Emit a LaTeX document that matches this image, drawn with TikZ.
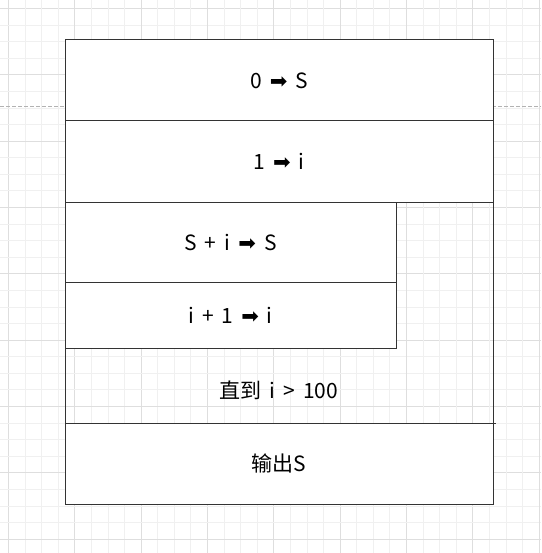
\documentclass[tikz,border=0pt]{standalone}
\usepackage{fontspec}
\setmainfont[WordSpace=1.7]{Noto Sans CJK SC}
\newfontfamily\symfont{DejaVu Sans}
\usetikzlibrary{positioning}
\newcommand{\ra}{{\symfont ➡}}

\begin{document}
\begin{tikzpicture}
[x=1pt,y=-1pt,
  lineDecorate/.style={draw=black!80,line width=1pt},
  boxDecorate/.style={shape=rectangle,draw=black!80,line width=1pt,fill=white,
    inner sep=0pt,outer sep=0pt,anchor=north west,font=\fontsize{21}{25}\selectfont},
  textDecorate/.style={inner sep=0pt,font=\fontsize{21}{25}\selectfont},
  gridMinor/.style={draw=black!6,line width=0.8pt},
  gridMajor/.style={draw=black!13,line width=0.8pt}]
\useasboundingbox (0,0) rectangle (541,553);
\fill[white] (0,0) rectangle (541,553);
%% grid
\foreach \k in {0,...,32}
{
  \pgfmathsetmacro{\p}{8.5+16.58*\k}
  \pgfmathtruncatemacro{\m}{mod(\k,4)}
  \ifnum\m=0 \def\g{gridMajor}\else\def\g{gridMinor}\fi
  \draw[\g] (\p,0) -- (\p,553);
  \draw[\g] (0,\p) -- (541,\p);
}
\draw[draw=black!30,line width=1pt,dash pattern=on 4pt off 2pt] (0,107) -- (541,107);
%% boxes
\node (initS) at (65,40) [boxDecorate,minimum width=428pt,minimum height=81pt] {0 \ra{} S};
\node (initI) [boxDecorate,minimum width=428pt,minimum height=81pt,below=0pt of initS] {1 \ra{} i};
\node (sumS) [boxDecorate,minimum width=331pt,minimum height=80pt,
  below right=0pt and 0pt of initI.south west] {S + i \ra{} S};
\node (incI) [boxDecorate,minimum width=331pt,minimum height=66pt,below=0pt of sumS] {i + 1 \ra{} i};
\node (until) at (279,390) [textDecorate] {直到 i > 100};
\node (out) at (65,423) [boxDecorate,minimum width=428pt,minimum height=81pt] {输出S};
\coordinate (tick) at ([xshift=3pt]out.north east);
%% loop frame
\draw[lineDecorate] (incI.south west) -- (out.north west);
\draw[lineDecorate] (initI.south east) -- (out.north east) -- (tick);
\end{tikzpicture}
\end{document}
